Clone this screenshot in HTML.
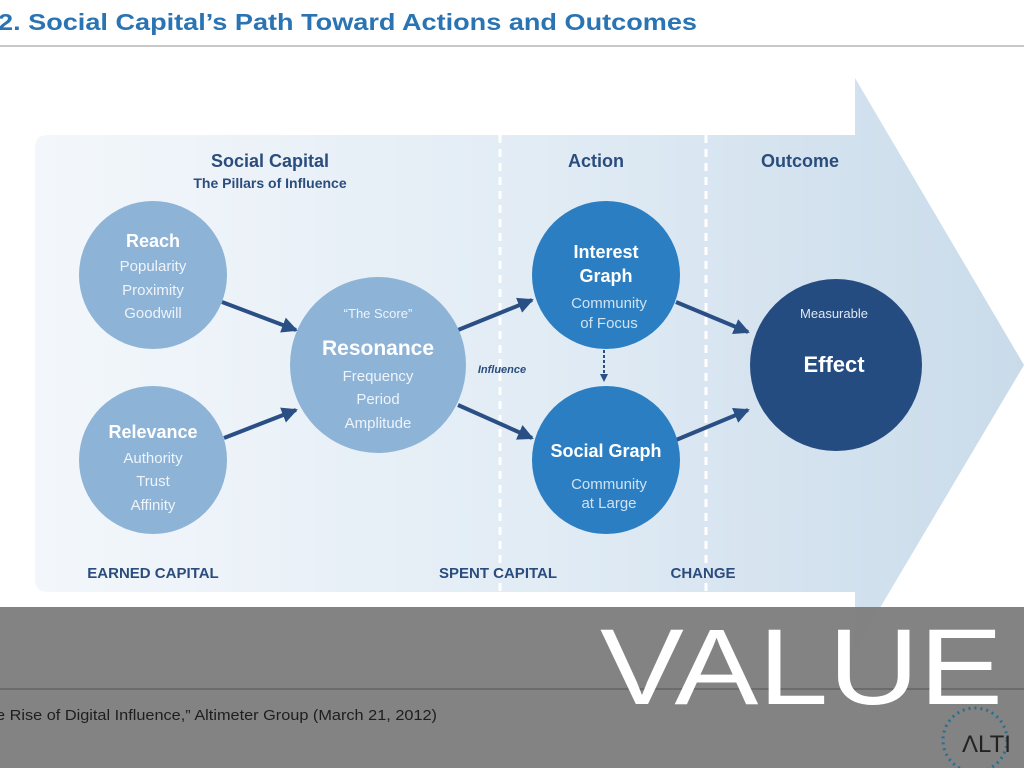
<!DOCTYPE html>
<html><head><style>
body{margin:0;width:1024px;height:768px;overflow:hidden;background:#fff;font-family:"Liberation Sans",sans-serif;position:relative}
</style></head><body>
<svg width="1024" height="768" style="position:absolute;left:0;top:0" font-family="Liberation Sans, sans-serif">
<defs>
<linearGradient id="g" x1="0" x2="1" y1="0" y2="0">
<stop offset="0" stop-color="#f3f7fb"/><stop offset="0.5" stop-color="#e2ecf5"/><stop offset="1" stop-color="#c9dbea"/>
</linearGradient>
<marker id="a" markerWidth="8" markerHeight="8" refX="6" refY="4" orient="auto" markerUnits="userSpaceOnUse"><path d="M0,0 L8,4 L0,8Z" fill="#2a4f85"/></marker>
<marker id="b" markerWidth="16" markerHeight="16" refX="14" refY="8" orient="auto" markerUnits="userSpaceOnUse"><path d="M0,0 L16,8 L0,16Z" fill="#2a4f85"/></marker>
</defs>
<text x="-2" y="30" font-size="23" font-weight="bold" fill="#2a74b4" textLength="699" lengthAdjust="spacingAndGlyphs">2. Social Capital’s Path Toward Actions and Outcomes</text>
<rect x="0" y="45" width="1024" height="2" fill="#c8c8c8"/>
<path d="M48,135 L855,135 L855,78 L1024,365 L855,650 L855,592 L48,592 Q35,592 35,580 L35,148 Q35,135 48,135Z" fill="url(#g)"/>
<line x1="500" y1="135" x2="500" y2="607" stroke="#fff" stroke-width="3" stroke-dasharray="8,6"/>
<line x1="706" y1="135" x2="706" y2="607" stroke="#fff" stroke-width="3" stroke-dasharray="8,6"/>
<g font-weight="bold" fill="#2b4d7d" text-anchor="middle">
<text x="270" y="167" font-size="18">Social Capital</text>
<text x="270" y="188" font-size="14">The Pillars of Influence</text>
<text x="596" y="167" font-size="18">Action</text>
<text x="800" y="167" font-size="18">Outcome</text>
<text x="153" y="578" font-size="15">EARNED CAPITAL</text>
<text x="498" y="578" font-size="15">SPENT CAPITAL</text>
<text x="703" y="578" font-size="15">CHANGE</text>
</g>
<g stroke="#2a4f85" stroke-width="4" marker-end="url(#b)">
<line x1="222" y1="302" x2="296" y2="330"/>
<line x1="224" y1="438" x2="296" y2="410"/>
<line x1="458" y1="330" x2="532" y2="300"/>
<line x1="458" y1="405" x2="532" y2="438"/>
<line x1="676" y1="302" x2="748" y2="332"/>
<line x1="676" y1="440" x2="748" y2="410"/>
</g>
<line x1="604" y1="350" x2="604" y2="380" stroke="#2a4f85" stroke-width="2" stroke-dasharray="3,2" marker-end="url(#a)"/>
<text x="502" y="373" font-size="11" font-style="italic" font-weight="bold" fill="#2b4d7d" text-anchor="middle">Influence</text>
<g text-anchor="middle">
<circle cx="153" cy="275" r="74" fill="#8db3d7"/>
<text x="153" y="247" font-size="18" font-weight="bold" fill="#fff">Reach</text>
<text x="153" y="271" font-size="15" fill="#eef4fa">Popularity</text>
<text x="153" y="295" font-size="15" fill="#eef4fa">Proximity</text>
<text x="153" y="318" font-size="15" fill="#eef4fa">Goodwill</text>
<circle cx="153" cy="460" r="74" fill="#8db3d7"/>
<text x="153" y="438" font-size="18" font-weight="bold" fill="#fff">Relevance</text>
<text x="153" y="463" font-size="15" fill="#eef4fa">Authority</text>
<text x="153" y="486" font-size="15" fill="#eef4fa">Trust</text>
<text x="153" y="510" font-size="15" fill="#eef4fa">Affinity</text>
<circle cx="378" cy="365" r="88" fill="#8db3d7"/>
<text x="378" y="318" font-size="13" fill="#eef4fa">“The Score”</text>
<text x="378" y="355" font-size="21" font-weight="bold" fill="#fff">Resonance</text>
<text x="378" y="381" font-size="15" fill="#eef4fa">Frequency</text>
<text x="378" y="404" font-size="15" fill="#eef4fa">Period</text>
<text x="378" y="428" font-size="15" fill="#eef4fa">Amplitude</text>
<circle cx="606" cy="275" r="74" fill="#2b7ec2"/>
<text x="606" y="258" font-size="18" font-weight="bold" fill="#fff">Interest</text>
<text x="606" y="282" font-size="18" font-weight="bold" fill="#fff">Graph</text>
<text x="609" y="308" font-size="15" fill="#cfe2f2">Community</text>
<text x="609" y="328" font-size="15" fill="#cfe2f2">of Focus</text>
<circle cx="606" cy="460" r="74" fill="#2b7ec2"/>
<text x="606" y="457" font-size="18" font-weight="bold" fill="#fff">Social Graph</text>
<text x="609" y="489" font-size="15" fill="#cfe2f2">Community</text>
<text x="609" y="508" font-size="15" fill="#cfe2f2">at Large</text>
<circle cx="836" cy="365" r="86" fill="#254c81"/>
<text x="834" y="318" font-size="13" fill="#e0e8f2">Measurable</text>
<text x="834" y="372" font-size="22" font-weight="bold" fill="#fff">Effect</text>
</g>
<rect x="0" y="607" width="1024" height="161" fill="#7f7f7f" fill-opacity="0.97"/>
<rect x="0" y="688" width="1024" height="2" fill="#6c6c6c"/>
<text x="-4" y="720" font-size="15" fill="#1e1e1e" textLength="441" lengthAdjust="spacingAndGlyphs">e Rise of Digital Influence,” Altimeter Group (March 21, 2012)</text>
<circle cx="975" cy="740" r="32" fill="none" stroke="#2a6f8f" stroke-width="3" stroke-dasharray="2,4"/>
<text x="962" y="752" font-size="24" fill="#222">ΛLTI</text>
<text x="600" y="704" font-size="108" fill="#fff" textLength="403" lengthAdjust="spacingAndGlyphs">VALUE</text>
</svg>
</body></html>
